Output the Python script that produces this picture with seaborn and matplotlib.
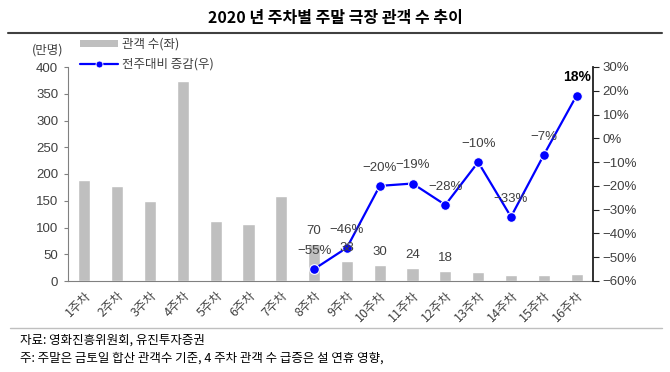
import numpy as np
import matplotlib
matplotlib.use("Agg")
import matplotlib.pyplot as plt
import seaborn as sns
from matplotlib.patches import Patch
from matplotlib.lines import Line2D
from matplotlib.ticker import FuncFormatter

# data
weeks = [f"{i}주차" for i in range(1, 17)]
viewers = [188, 178, 150, 373, 112, 106, 158, 70, 38, 30, 24, 18, 16, 11, 11, 13]
bar_labels = ["", "", "", "", "", "", "", "70", "38", "30", "24", "18", "", "", "", ""]
change_weeks = ["8주차", "9주차", "10주차", "11주차", "12주차", "13주차", "14주차", "15주차", "16주차"]
change_pct = [-55, -46, -20, -19, -28, -10, -33, -7, 18]

sns.set_style("white")
plt.rcParams['font.family'] = ['Liberation Sans', 'Noto Sans CJK KR', 'DejaVu Sans']
plt.rcParams['axes.unicode_minus'] = True

TXT = '#404040'
BAR = '#BFBFBF'
BLUE = '#0000FF'
KR = ['Noto Sans CJK KR', 'DejaVu Sans']

fig = plt.figure(figsize=(6.7, 3.72), dpi=100)
ax = fig.add_axes([68/670, 1-281/372, (593-68)/670, (281-67)/372])

sns.barplot(x=weeks, y=viewers, color=BAR, width=0.37, saturation=1, ax=ax)
ax.set_ylim(0, 400)
ax.set_xlim(-0.5, len(weeks) - 0.5)
ax.set_yticks(range(0, 401, 50))
ax.set_xlabel("")
ax.set_ylabel("")

# x ticks: labels at centres, tick marks between categories
ax.set_xticks(np.arange(len(weeks)))
ax.set_xticklabels(weeks, rotation=45, ha='right', rotation_mode='anchor',
                   fontsize=9, color=TXT, family=KR)
ax.tick_params(axis='x', which='major', length=0, pad=6)
ax.set_xticks(np.arange(-0.5, len(weeks), 1), minor=True)
ax.tick_params(axis='x', which='minor', length=4, direction='out', color='#808080', width=0.8)
ax.tick_params(axis='y', length=3, direction='out', color='#808080', labelsize=9.5,
               labelcolor=TXT, pad=4)

for s in ['top', 'right']:
    ax.spines[s].set_visible(False)
ax.spines['left'].set_color('#808080')
ax.spines['bottom'].set_color('#808080')
ax.spines['left'].set_linewidth(0.8)
ax.spines['bottom'].set_linewidth(0.8)

# right axis: week-on-week change
ax2 = ax.twinx()
pos = [weeks.index(w) for w in change_weeks]
sns.lineplot(x=pos, y=change_pct, ax=ax2, color=BLUE, linewidth=1.6,
             marker='o', markersize=7, markeredgecolor='white', markeredgewidth=0.8)
ax2.set_ylim(-60, 30)
ax2.set_yticks(range(-60, 31, 10))
ax2.yaxis.set_major_formatter(FuncFormatter(lambda v, p: f"{int(v)}%".replace("-", "\u2212")))
ax2.tick_params(axis='y', length=4, direction='out', color='#202020', labelsize=9.5,
                labelcolor=TXT, pad=3)
ax2.set_ylabel("")
for s in ['top', 'left', 'bottom']:
    ax2.spines[s].set_visible(False)
ax2.spines['right'].set_color('#202020')
ax2.spines['right'].set_linewidth(1.3)

# bar value labels, drawn on top of the line
for i, (v, lab) in enumerate(zip(viewers, bar_labels)):
    if lab:
        ax2.annotate(lab, (i, v), xycoords=ax.transData, xytext=(0, 5),
                     textcoords='offset points', ha='center', va='bottom',
                     fontsize=9.5, color=TXT)

for x, v in zip(pos, change_pct):
    label = f"{v}%".replace("-", "\u2212")
    last = (x == pos[-1])
    ax2.annotate(label, (x, v), xytext=(0, 13), textcoords='offset points',
                 ha='center', va='center',
                 fontsize=10 if last else 9.5,
                 fontweight='bold' if last else 'normal',
                 color='black' if last else TXT)

# legend
handles = [Patch(facecolor=BAR, edgecolor='none'),
           Line2D([0], [0], color=BLUE, linewidth=1.6, marker='o', markersize=5,
                  markeredgecolor='white', markeredgewidth=0.6)]
fig.legend(handles, ["관객 수(좌)", "전주대비 증감(우)"], loc='upper left',
           bbox_to_anchor=(80/670, 1-38/372), frameon=False,
           handlelength=3.0, handleheight=0.5, labelspacing=0.55,
           handletextpad=0.4, borderaxespad=0, borderpad=0,
           labelcolor=TXT, prop={'family': KR, 'size': 9})

fig.text(48/670, 1-50/372, "(만명)", ha='center', va='center', fontsize=9, color=TXT, family=KR)

# title and rules
fig.text(0.5, 1-18/372, "2020 년 주차별 주말 극장 관객 수 추이", ha='center', va='center',
         fontsize=11.5, fontweight='bold', color='black', family=KR)
fig.add_artist(Line2D([8/670, 662/670], [1-33/372, 1-33/372], color='#404040', linewidth=1.5))
fig.add_artist(Line2D([10/670, 662/670], [1-328/372, 1-328/372], color='#BFBFBF', linewidth=1.0))

fig.text(20/670, 1-340/372, "자료: 영화진흥위원회, 유진투자증권", ha='left', va='center',
         fontsize=9, color='black', family=KR)
fig.text(20/670, 1-358/372, "주: 주말은 금토일 합산 관객수 기준, 4 주차 관객 수 급증은 설 연휴 영향,",
         ha='left', va='center', fontsize=9, color='black', family=KR)

fig.savefig("out.png", dpi=100)
